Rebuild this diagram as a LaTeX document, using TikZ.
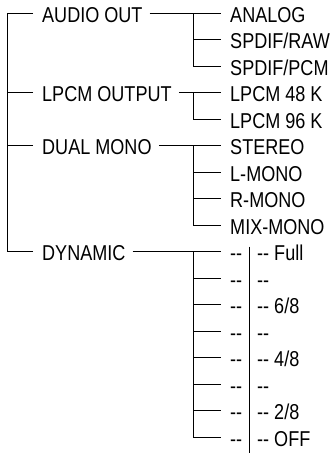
\documentclass[tikz,border=0pt]{standalone}
\usepackage{fontspec}
\newfontfamily\menufont{Liberation Sans}[FakeStretch=0.84,Ligatures=TeXOff]
\tikzset{
  item/.style={anchor=west, inner sep=0pt, text height=17.8pt, text depth=0pt,
    font=\menufont\fontsize{21.5pt}{25pt}\selectfont},
  wire/.style={line width=0.8pt},
}
\begin{document}
\begin{tikzpicture}[x=1pt, y=-26.5pt]
  \useasboundingbox (0,-0.502) rectangle (333,16.592);
  % trunk and fork columns
  \coordinate (root) at (7,0);
  \coordinate (fork) at (193,0);
  % first level
  \node[item] (audio) at (42,0) {AUDIO OUT};
  \node[item] (lpcm) at (42,3) {LPCM OUTPUT};
  \node[item] (dual) at (42,5) {DUAL MONO};
  \node[item] (dyn) at (42,9) {DYNAMIC};
  % second level
  \foreach \r/\n/\t in {0/analog/ANALOG,1/raw/{SPDIF/RAW},2/pcm/{SPDIF/PCM},
      3/k48/LPCM 48 K,4/k96/LPCM 96 K,5/stereo/STEREO,6/lmono/L-MONO,
      7/rmono/R-MONO,8/mix/MIX-MONO}
    \node[item] (\n) at (230,\r) {\t};
  % dynamic steps
  \foreach \i/\t in {0/{-- Full},1/--,2/{-- 6/8},3/--,4/{-- 4/8},5/--,6/{-- 2/8},7/{-- OFF}}{
    \pgfmathtruncatemacro{\r}{\i+9}
    \node[item] (d\i) at (230,\r) {--};
    \node[item] (v\i) at (257,\r) {\t};
  }
  % trunk
  \draw[wire, shorten <=9pt] (audio.west) -- (root);
  \draw[wire, shorten <=9pt] (lpcm.west) -- (lpcm.west -| root);
  \draw[wire, shorten <=9pt] (dual.west) -- (dual.west -| root);
  \draw[wire, shorten <=9pt] (dyn.west) -| (root);
  % parent to first child
  \foreach \p/\c in {audio/analog,lpcm/k48,dual/stereo,dyn/d0}
    \draw[wire, shorten <=7pt, shorten >=9.5pt] (\p.east) -- (\c.west);
  % last child up to the fork
  \foreach \c/\f in {pcm/analog,k96/k48,mix/stereo,d7/d0}
    \draw[wire, shorten <=9.5pt] (\c.west) -| (\f.west -| fork);
  % children in between
  \foreach \c in {raw,lmono,rmono,d1,d2,d3,d4,d5,d6}
    \draw[wire, shorten <=9.5pt] (\c.west) -- (\c.west -| fork);
  % separator
  \coordinate (septop) at (249,8.8);
  \coordinate (sepbot) at (249,16.592);
  \draw[wire] (septop) -- (sepbot);
\end{tikzpicture}
\end{document}
